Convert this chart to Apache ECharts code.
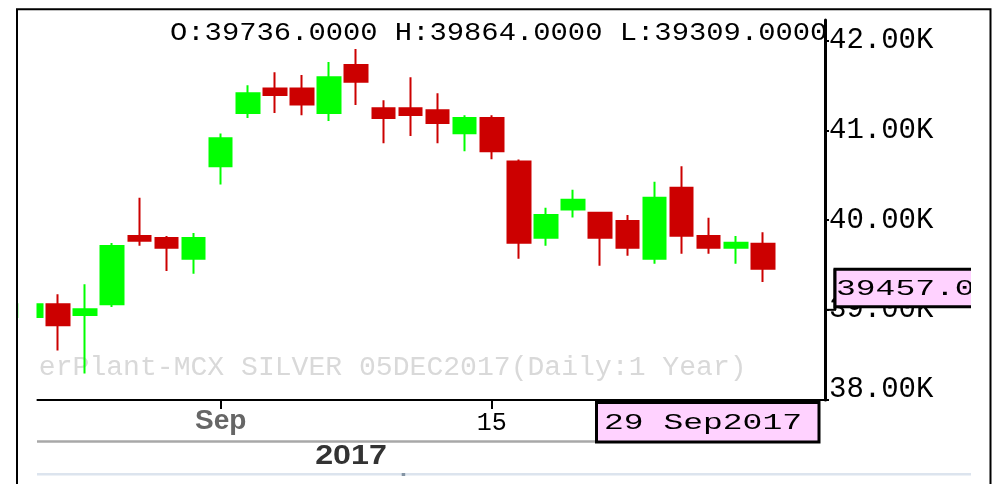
<!DOCTYPE html>
<html><head><meta charset="utf-8">
<script src="https://cdn.jsdelivr.net/npm/echarts@6/dist/echarts.min.js"></script>
<style>html,body{margin:0;padding:0;background:#fff}#c{width:994px;height:484px}</style>
</head><body><div id="c"></div>
<script>
const dates = ['2017-08-23','2017-08-24','2017-08-25','2017-08-28','2017-08-29','2017-08-30','2017-08-31',
  '2017-09-01','2017-09-04','2017-09-05','2017-09-06','2017-09-07','2017-09-08',
  '2017-09-11','2017-09-12','2017-09-13','2017-09-14','2017-09-15',
  '2017-09-18','2017-09-19','2017-09-20','2017-09-21','2017-09-22',
  '2017-09-25','2017-09-26','2017-09-27','2017-09-28','2017-09-29'];
const opens  = [38919,39061,38941,39061,39823,39801,39569,40600,41193,41467,41467,41193,41728,41246,41246,41224,40969,41137,40652,39804,40118,40081,39991,39569,40361,39823,39692,39736];
const closes = [39061,38829,39005,39711,39770,39692,39801,40913,41414,41395,41287,41593,41541,41137,41171,41081,41137,40768,39748,40058,40226,39804,39692,40249,39826,39692,39748,39457];
const lows   = [38880,38546,38291,39031,39714,39434,39401,40398,41137,41193,41168,41104,41283,40857,40936,40857,40768,40678,39569,39714,40028,39490,39602,39513,39625,39625,39513,39309];
const highs  = [39120,39173,39285,39745,40249,39823,39857,40966,41504,41649,41616,41761,41907,41336,41593,41414,41168,41168,40675,40137,40338,40081,40058,40428,40600,40025,39823,39864];
const xTickIndex = [0, 7, 17];
const xTickLabels = ['23', 'Sep', '15'];
const yTicks = [38000, 39000, 40000, 41000, 42000];
const yTickLabels = ['38.00K', '39.00K', '40.00K', '41.00K', '42.00K'];
const yearLabel = '2017';
const watermark = 'terPlant-MCX SILVER 05DEC2017(Daily:1 Year)';

const MON = ['Jan','Feb','Mar','Apr','May','Jun','Jul','Aug','Sep','Oct','Nov','Dec'];
function fmtDate(s){ const p = s.split('-'); return p[2] + ' ' + MON[+p[1]-1] + p[0]; }

const chart = echarts.init(document.getElementById('c'), null, {renderer:'canvas'});
const last = dates.length - 1;

chart.setOption({
  animation: false,
  backgroundColor: '#fff',
  grid: {left: 37, right: 169, top: 20, bottom: 84, containLabel: false},
  xAxis: {
    type: 'value', min: 0.226, max: 29.29,
    splitLine: {show: false},
    axisLine: {show: true, onZero: false, lineStyle: {color: '#000', width: 2}},
    axisTick: {show: true, customValues: xTickIndex, length: 9, lineStyle: {color: '#000', width: 2}},
    axisLabel: {
      customValues: xTickIndex, margin: 4,
      formatter: function (v) {
        const k = xTickIndex.indexOf(Math.round(v));
        const t = k >= 0 ? xTickLabels[k] : '';
        return isNaN(+t) ? '{m|' + t + '}' : '{n|' + t + '}';
      },
      rich: {
        m: {fontFamily: 'Liberation Sans', fontSize: 28, fontWeight: 'bold', color: '#666', lineHeight: 34},
        n: {fontFamily: 'Liberation Mono', fontSize: 25, color: '#000', lineHeight: 38}
      }
    }
  },
  yAxis: {
    type: 'value', position: 'right', min: 37995, max: 42230,
    splitLine: {show: false},
    axisLine: {show: true, onZero: false, lineStyle: {color: '#000', width: 3}},
    axisTick: {show: true, customValues: yTicks, length: 4, lineStyle: {color: '#000', width: 2}},
    axisLabel: {
      customValues: yTicks, margin: 4, color: '#000',
      fontFamily: 'Liberation Mono', fontSize: 29, lineHeight: 20,
      formatter: function (v) {
        const k = yTicks.indexOf(Math.round(v));
        const t = k >= 0 ? yTickLabels[k] : '';
        return k === 0 ? t + '\n' : t;
      }
    }
  },
  series: [{
    type: 'candlestick',
    data: dates.map((d, i) => [i, opens[i], closes[i], lows[i], highs[i]]),
    encode: {x: 0, y: [1, 2, 3, 4]},
    barWidth: 23,
    clip: true,
    silent: true,
    z: 3,
    itemStyle: {color: '#00FF00', color0: '#CC0000', borderColor: '#00FF00', borderColor0: '#CC0000', borderWidth: 2}
  }]
});

const yClose = chart.convertToPixel({yAxisIndex: 0}, closes[last]);
const yTickBelow = chart.convertToPixel({yAxisIndex: 0}, Math.floor(closes[last] / 1000) * 1000);
const ohlc = 'O:' + opens[last].toFixed(4) + ' H:' + highs[last].toFixed(4) + ' L:' + lows[last].toFixed(4);

chart.setOption({
  graphic: [
    {type: 'text', x: 22, y: 368, scaleX: 1.04, z: 0, silent: true,
     style: {text: watermark, x: 0, y: 0, fontFamily: 'Liberation Mono', fontSize: 27, fill: '#D9D9D9', align: 'left', verticalAlign: 'middle'}},
    {type: 'rect', z: 50, silent: true, shape: {x: 18.5, y: 20, width: 18, height: 460}, style: {fill: '#fff'}},
    {type: 'text', x: 170, y: 33.5, scaleX: 1.153, z: 40, silent: true,
     style: {text: ohlc, x: 0, y: 0, fontFamily: 'Liberation Mono', fontSize: 25, fill: '#000', align: 'left', verticalAlign: 'middle'}},
    {type: 'line', z: 40, silent: true, shape: {x1: 37, y1: 441.5, x2: 600, y2: 441.5}, style: {stroke: '#A8A8A8', lineWidth: 2.5}},
    {type: 'line', z: 40, silent: true, shape: {x1: 37, y1: 474.3, x2: 971, y2: 474.3}, style: {stroke: '#DCE4EE', lineWidth: 2.5}},
    {type: 'rect', z: 41, silent: true, shape: {x: 401.7, y: 473, width: 3.5, height: 3}, style: {fill: '#8494A4'}},
    {type: 'text', x: 351, y: 456.5, scaleX: 1.15, z: 40, silent: true,
     style: {text: yearLabel, x: 0, y: 0, fontFamily: 'Liberation Sans', fontWeight: 'bold', fontSize: 28, fill: '#333', align: 'center', verticalAlign: 'middle'}},
    {type: 'rect', z: 42, silent: true, shape: {x: 596.5, y: 402.5, width: 222.5, height: 39.5}, style: {fill: '#FFD2FF', stroke: '#000', lineWidth: 3}},
    {type: 'text', x: 604, y: 423.5, scaleX: 1.5, z: 43, silent: true,
     style: {text: fmtDate(dates[last]), x: 0, y: 0, fontFamily: 'Liberation Mono', fontSize: 22, fill: '#000', align: 'left', verticalAlign: 'middle'}},
    {type: 'line', z: 42, silent: true, shape: {x1: 835, y1: yClose, x2: 835, y2: yTickBelow}, style: {stroke: '#000', lineWidth: 3}},
    {type: 'line', z: 42, silent: true, shape: {x1: 825, y1: yTickBelow, x2: 836, y2: yTickBelow}, style: {stroke: '#000', lineWidth: 2}},
    {type: 'rect', z: 42, silent: true, shape: {x: 835, y: yClose + 0.5, width: 200, height: 37.5}, style: {fill: '#FFD2FF', stroke: '#000', lineWidth: 3}},
    {type: 'text', x: 836, y: yClose + 20.5, scaleX: 1.5, z: 43, silent: true,
     style: {text: closes[last].toFixed(4), x: 0, y: 0, fontFamily: 'Liberation Mono', fontSize: 22, fill: '#000', align: 'left', verticalAlign: 'middle'}},
    {type: 'rect', z: 60, silent: true, shape: {x: 971, y: 250, width: 30, height: 80}, style: {fill: '#fff'}},
    {type: 'rect', z: 100, silent: true, shape: {x: 17, y: 9.3, width: 973.5, height: 500}, style: {fill: 'none', stroke: '#000', lineWidth: 2}}
  ]
});
</script></body></html>
